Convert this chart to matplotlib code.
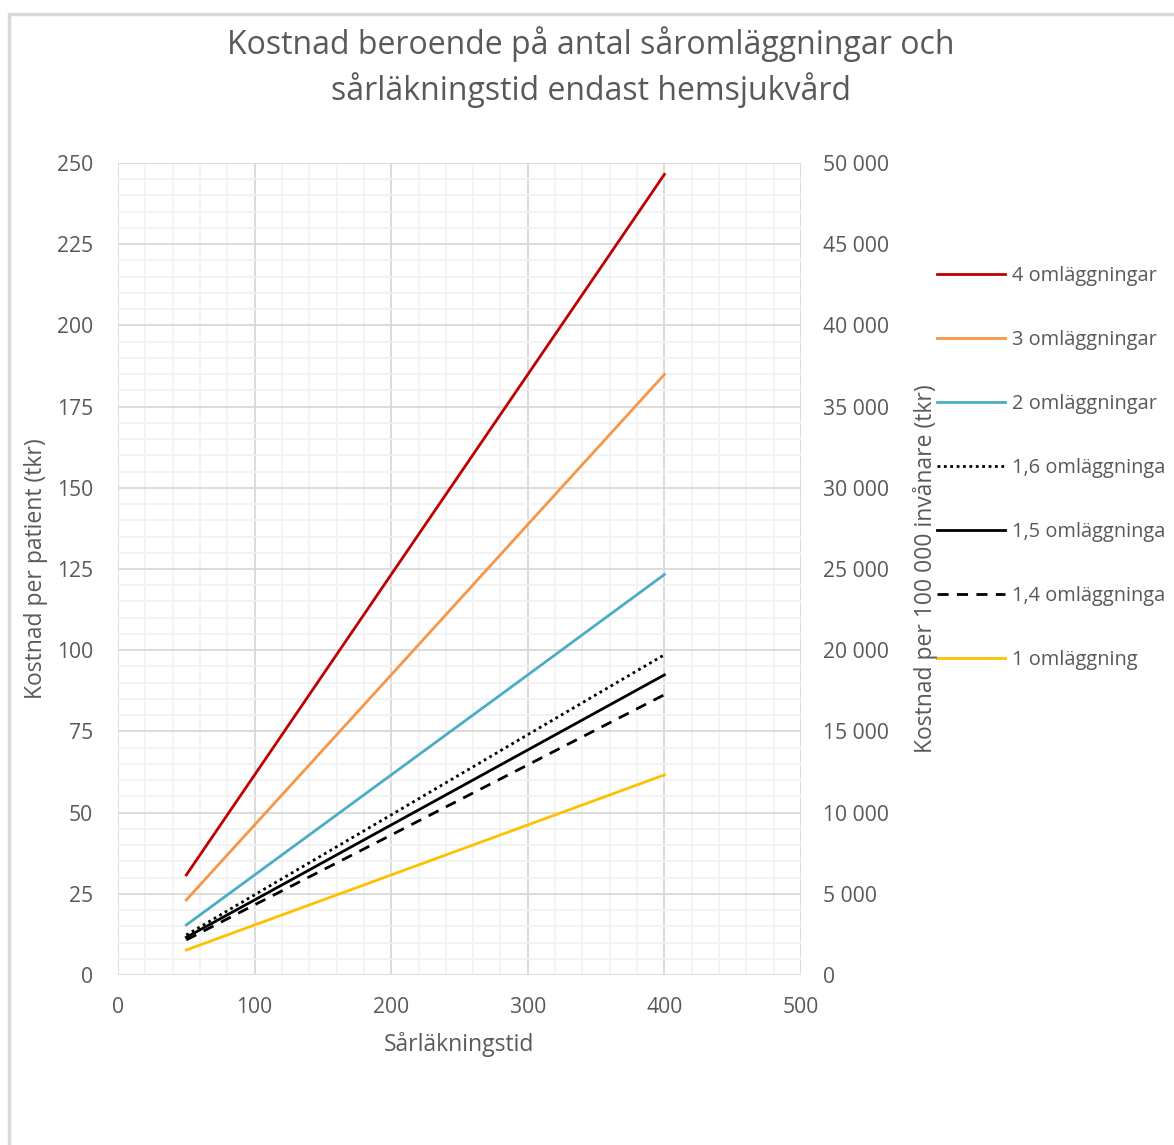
import matplotlib.pyplot as plt
import matplotlib.ticker as mticker
from matplotlib.patches import Rectangle

plt.rcParams['font.family'] = ['Open Sans', 'DejaVu Sans']

# data (legend names as the chart shows them, cut by Excel)
dagar = [50, 100, 200, 300, 400]
serier = ['4 omläggningar', '3 omläggningar', '2 omläggningar',
          '1,6 omläggninga', '1,5 omläggninga', '1,4 omläggninga',
          '1 omläggning']
kostnad_4 = [30.8, 61.6, 123.3, 184.9, 246.5]
kostnad_3 = [23.1, 46.2, 92.4, 138.7, 184.9]
kostnad_2 = [15.4, 30.8, 61.6, 92.4, 123.3]
kostnad_16 = [12.3, 24.7, 49.3, 74.0, 98.6]
kostnad_15 = [11.6, 23.1, 46.2, 69.3, 92.4]
kostnad_14 = [10.8, 21.6, 43.1, 64.7, 86.3]
kostnad_1 = [7.7, 15.4, 30.8, 46.2, 61.6]

grey = '#595959'
fig = plt.figure(figsize=(11.74, 11.45), dpi=100)
fig.patches.append(Rectangle((9 / 1174, -0.1), 1.2, 1.1 - 14 / 1145,
                             transform=fig.transFigure, fill=False,
                             edgecolor='#d9d9d9', linewidth=2.5))

ax = fig.add_axes([118 / 1174, 1 - 975 / 1145, 683 / 1174, 812 / 1145])
ax2 = ax.twinx()

ax.plot(dagar, kostnad_4, color='#c00000', lw=2, label=serier[0])
ax.plot(dagar, kostnad_3, color='#f79646', lw=2, label=serier[1])
ax.plot(dagar, kostnad_2, color='#4bacc6', lw=2, label=serier[2])
ax.plot(dagar, kostnad_16, color='black', lw=2, ls=(0, (1, 1.3)), label=serier[3])
ax.plot(dagar, kostnad_15, color='black', lw=2, label=serier[4])
ax.plot(dagar, kostnad_14, color='black', lw=2, ls=(0, (4, 3)), label=serier[5])
ax.plot(dagar, kostnad_1, color='#ffc000', lw=2, label=serier[6])

ax.set_xlim(0, 500)
ax.set_ylim(0, 250)
ax2.set_ylim(0, 50000)
ax.xaxis.set_major_locator(mticker.MultipleLocator(100))
ax.xaxis.set_minor_locator(mticker.MultipleLocator(20))
ax.yaxis.set_major_locator(mticker.MultipleLocator(25))
ax.yaxis.set_minor_locator(mticker.MultipleLocator(5))
ax2.yaxis.set_major_locator(mticker.MultipleLocator(5000))
ax2.yaxis.set_major_formatter(mticker.FuncFormatter(
    lambda v, p: f'{int(v):,}'.replace(',', ' ')))

ax.grid(which='major', color='#d9d9d9', lw=1.3)
ax.grid(which='minor', color='#f2f2f2', lw=1.3)
ax.set_axisbelow(True)
for a in (ax, ax2):
    for s in a.spines.values():
        s.set_visible(False)
    a.tick_params(which='both', length=0, labelsize=15.2, colors=grey, pad=16)
ax.tick_params(axis='y', pad=18)

ax.set_xlabel('Sårläkningstid', fontsize=16.5, color=grey, labelpad=10)
ax.set_ylabel('Kostnad per patient (tkr)', fontsize=16.5, color=grey, labelpad=6)
ax2.set_ylabel('Kostnad per 100 000 invånare (tkr)', fontsize=16.5, color=grey,
               labelpad=17)

fig.text(0.503, 1 - 67 / 1145,
         'Kostnad beroende på antal såromläggningar och\nsårläkningstid endast hemsjukvård',
         ha='center', va='center', fontsize=23, color=grey, linespacing=1.35)

leg = ax.legend(loc='upper left', bbox_to_anchor=(929 / 1174, 1 - 258 / 1145),
                bbox_transform=fig.transFigure, frameon=False, fontsize=14.4,
                handlelength=3.4, labelspacing=2.2, handletextpad=0.35,
                borderaxespad=0)
for t in leg.get_texts():
    t.set_color(grey)

fig.savefig('out.png', dpi=100)
